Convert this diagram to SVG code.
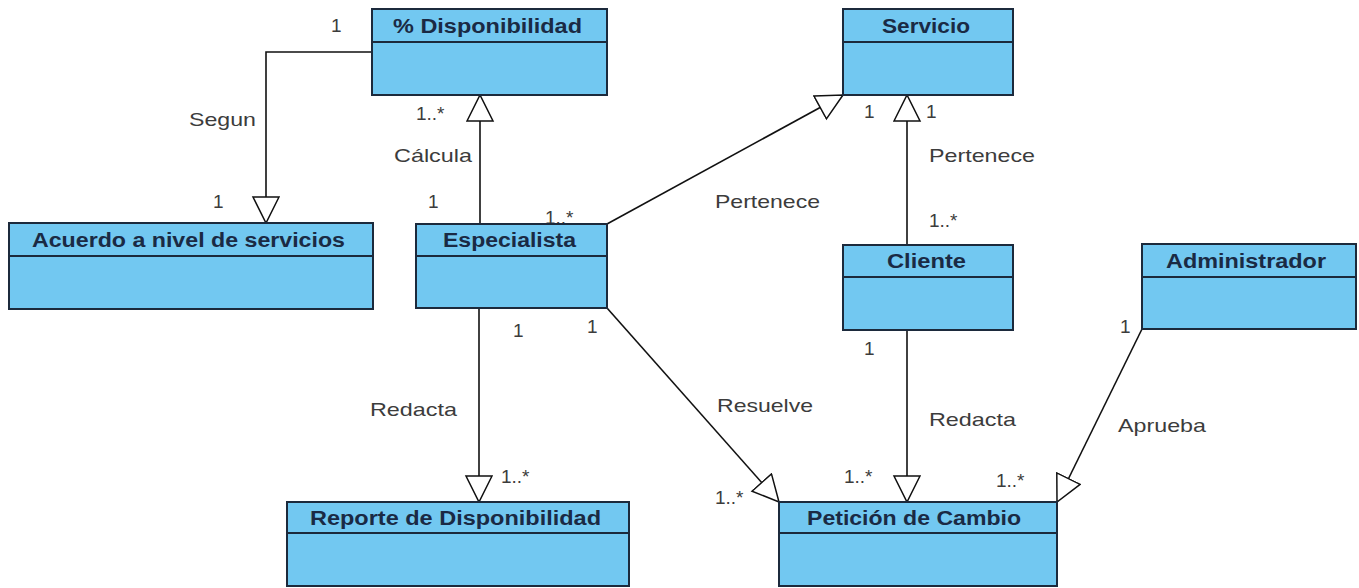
<svg xmlns="http://www.w3.org/2000/svg" width="1359" height="588" viewBox="0 0 1359 588">
<style>
.box{fill:#72c8f1;stroke:#1c2a3c;stroke-width:2}
.div{stroke:#1c2a3c;stroke-width:2}
.title{font-family:"Liberation Sans",Arial,sans-serif;font-size:20px;font-weight:bold;fill:#1a2a44}
.lbl{font-family:"Liberation Sans",Arial,sans-serif;font-size:19px;fill:#3c3c3c}
.ln{fill:none;stroke:#111;stroke-width:1.6}
</style>
<defs>
<marker id="tri" markerUnits="userSpaceOnUse" markerWidth="30" markerHeight="30" refX="27" refY="14" orient="auto">
<path d="M1,1 L27,14 L1,27 Z" fill="#fff" stroke="#111" stroke-width="1.5"/>
</marker>
</defs>
<rect width="1359" height="588" fill="#fff"/>
<g id="connectors">
<polyline class="ln" points="372,52 266,52 266,223" marker-end="url(#tri)"/>
<line class="ln" x1="480" y1="224" x2="480" y2="95" marker-end="url(#tri)"/>
<line class="ln" x1="607" y1="224" x2="843" y2="95" marker-end="url(#tri)"/>
<line class="ln" x1="907" y1="245" x2="907" y2="95" marker-end="url(#tri)"/>
<line class="ln" x1="479" y1="308" x2="479" y2="502" marker-end="url(#tri)"/>
<line class="ln" x1="607" y1="308" x2="779" y2="502" marker-end="url(#tri)"/>
<line class="ln" x1="907" y1="330" x2="907" y2="502" marker-end="url(#tri)"/>
<line class="ln" x1="1142" y1="329" x2="1057" y2="502" marker-end="url(#tri)"/>
</g>
<g id="labels">
<text class="lbl" x="331" y="32">1</text>
<text class="lbl" x="189" y="126" textLength="67" lengthAdjust="spacingAndGlyphs">Segun</text>
<text class="lbl" x="213" y="208">1</text>
<text class="lbl" x="416" y="120">1..*</text>
<text class="lbl" x="394" y="162" textLength="78" lengthAdjust="spacingAndGlyphs">Cálcula</text>
<text class="lbl" x="428" y="208">1</text>
<text class="lbl" x="545" y="224">1..*</text>
<text class="lbl" x="715" y="208" textLength="105" lengthAdjust="spacingAndGlyphs">Pertenece</text>
<text class="lbl" x="864" y="118">1</text>
<text class="lbl" x="926" y="118">1</text>
<text class="lbl" x="929" y="162" textLength="106" lengthAdjust="spacingAndGlyphs">Pertenece</text>
<text class="lbl" x="929" y="227">1..*</text>
<text class="lbl" x="513" y="337">1</text>
<text class="lbl" x="587" y="333">1</text>
<text class="lbl" x="370" y="416" textLength="87" lengthAdjust="spacingAndGlyphs">Redacta</text>
<text class="lbl" x="501" y="483">1..*</text>
<text class="lbl" x="717" y="412" textLength="96" lengthAdjust="spacingAndGlyphs">Resuelve</text>
<text class="lbl" x="715" y="504">1..*</text>
<text class="lbl" x="864" y="355">1</text>
<text class="lbl" x="929" y="426" textLength="87" lengthAdjust="spacingAndGlyphs">Redacta</text>
<text class="lbl" x="844" y="483">1..*</text>
<text class="lbl" x="1120" y="333">1</text>
<text class="lbl" x="1118" y="432" textLength="88" lengthAdjust="spacingAndGlyphs">Aprueba</text>
<text class="lbl" x="996" y="487">1..*</text>
</g>
<g id="disponibilidad">
<rect class="box" x="372" y="9" width="235" height="86"/>
<line class="div" x1="372" y1="42" x2="607" y2="42"/>
<text class="title" x="393" y="33" textLength="189" lengthAdjust="spacingAndGlyphs">% Disponibilidad</text>
</g>
<g id="servicio">
<rect class="box" x="843" y="9" width="170" height="86"/>
<line class="div" x1="843" y1="42" x2="1013" y2="42"/>
<text class="title" x="882" y="33" textLength="88" lengthAdjust="spacingAndGlyphs">Servicio</text>
</g>
<g id="acuerdo">
<rect class="box" x="9" y="223" width="364" height="86"/>
<line class="div" x1="9" y1="256" x2="373" y2="256"/>
<text class="title" x="32" y="247" textLength="313" lengthAdjust="spacingAndGlyphs">Acuerdo a nivel de servicios</text>
</g>
<g id="especialista">
<rect class="box" x="416" y="224" width="191" height="84"/>
<line class="div" x1="416" y1="256" x2="607" y2="256"/>
<text class="title" x="443" y="247" textLength="133" lengthAdjust="spacingAndGlyphs">Especialista</text>
</g>
<g id="cliente">
<rect class="box" x="843" y="245" width="170" height="85"/>
<line class="div" x1="843" y1="277" x2="1013" y2="277"/>
<text class="title" x="887" y="268" textLength="79" lengthAdjust="spacingAndGlyphs">Cliente</text>
</g>
<g id="administrador">
<rect class="box" x="1142" y="244" width="214" height="85"/>
<line class="div" x1="1142" y1="277" x2="1356" y2="277"/>
<text class="title" x="1166" y="268" textLength="160" lengthAdjust="spacingAndGlyphs">Administrador</text>
</g>
<g id="reporte">
<rect class="box" x="287" y="502" width="342" height="84"/>
<line class="div" x1="287" y1="533" x2="629" y2="533"/>
<text class="title" x="310" y="525" textLength="291" lengthAdjust="spacingAndGlyphs">Reporte de Disponibilidad</text>
</g>
<g id="peticion">
<rect class="box" x="779" y="502" width="278" height="84"/>
<line class="div" x1="779" y1="533" x2="1057" y2="533"/>
<text class="title" x="807" y="525" textLength="214" lengthAdjust="spacingAndGlyphs">Petición de Cambio</text>
</g>
</svg>
